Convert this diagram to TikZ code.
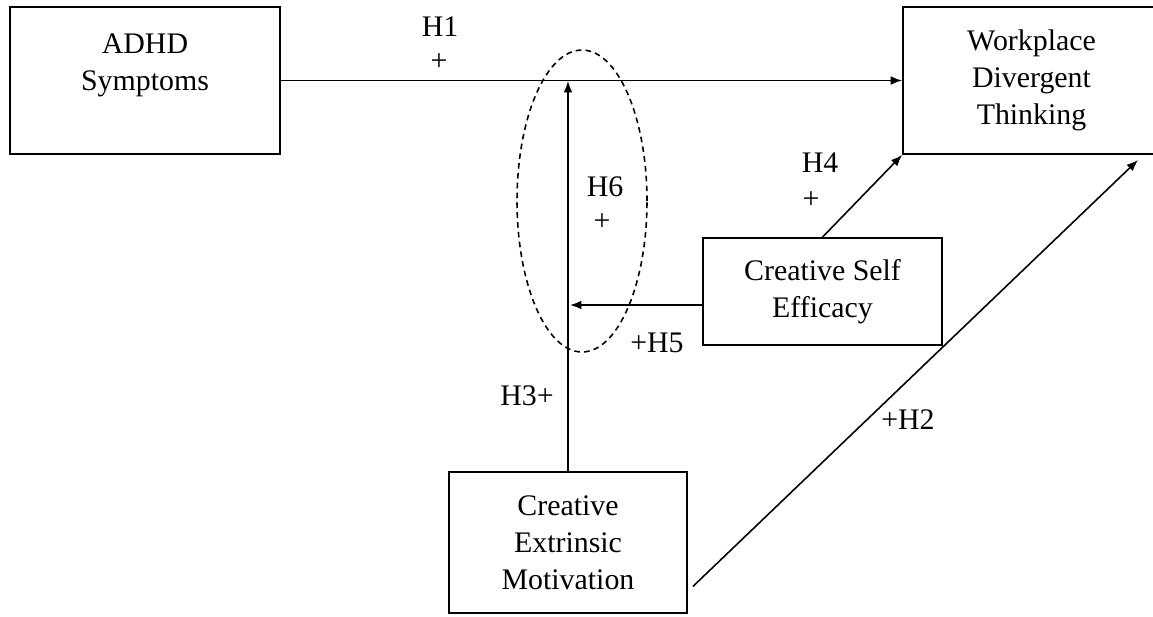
\documentclass[tikz,border=0pt]{standalone}
\usepackage{fontspec}
\setmainfont{Liberation Serif}
\usetikzlibrary{arrows.meta}
\usetikzlibrary{positioning}

\begin{document}
\begin{tikzpicture}[x=0.02cm, y=-0.02cm, >={Latex[length=6.5pt, width=5pt]},
    every node/.style={font=\fontsize{17}{21}\selectfont},
    factor/.style={draw, line width=1pt, align=center, inner sep=0pt},
    link/.style={line width=0.9pt, ->},
    hyp/.style={inner sep=0pt}]
    \useasboundingbox (0, 0) rectangle (1153, 616);

    \node [factor, minimum width=5.4cm, minimum height=2.94cm] (adhd)
    at (145, 80.5) {ADHD\\Symptoms\\\mbox{}};
    \node [factor, minimum width=5.14cm, minimum height=2.94cm] (wdt)
    at (1031.5, 80.5) {Workplace\\Divergent\\Thinking};
    \node [factor, minimum width=4.78cm, minimum height=2.14cm] (cse)
    at (822.5, 291.5) {Creative Self\\Efficacy};
    \node [factor, minimum width=4.76cm, minimum height=2.82cm] (cem)
    at (568, 542.5) {Creative\\Extrinsic\\Motivation};

    \coordinate (mod) at (568, 81);
    \coordinate (mod5) at (570, 305);
    \coordinate (h2end) at (1138, 160);

    \draw [link] (adhd) -- (wdt);
    \draw [link] (cem) -- (mod);
    \draw [link] (cse.west |- mod5) -- (mod5);
    \draw [link] (cse.north) -- (wdt.south west);
    \draw [link] ([shift={(5, 44)}]cem.east) -- (h2end);

    \draw [line width=0.9pt, dash pattern=on 3.2pt off 2.4pt]
    (582, 201) ellipse [x radius=1.3cm, y radius=3.02cm];

    \node [hyp] (h1) at (440, 27) {H1};
    \node [hyp] (h1s) at (439, 62) {+};
    \node [hyp] (h6) at (605, 187) {H6};
    \node [hyp] (h6s) at (602, 222) {+};
    \node [hyp] (h4) at (820, 163) {H4};
    \node [hyp] (h4s) at (811, 200) {+};
    \node [hyp] (h5) at (657, 343) {+H5};
    \node [hyp] (h3) at (527, 396) {H3+};
    \node [hyp] (h2) at (908, 420) {+H2};

  \end{tikzpicture}
\end{document}
